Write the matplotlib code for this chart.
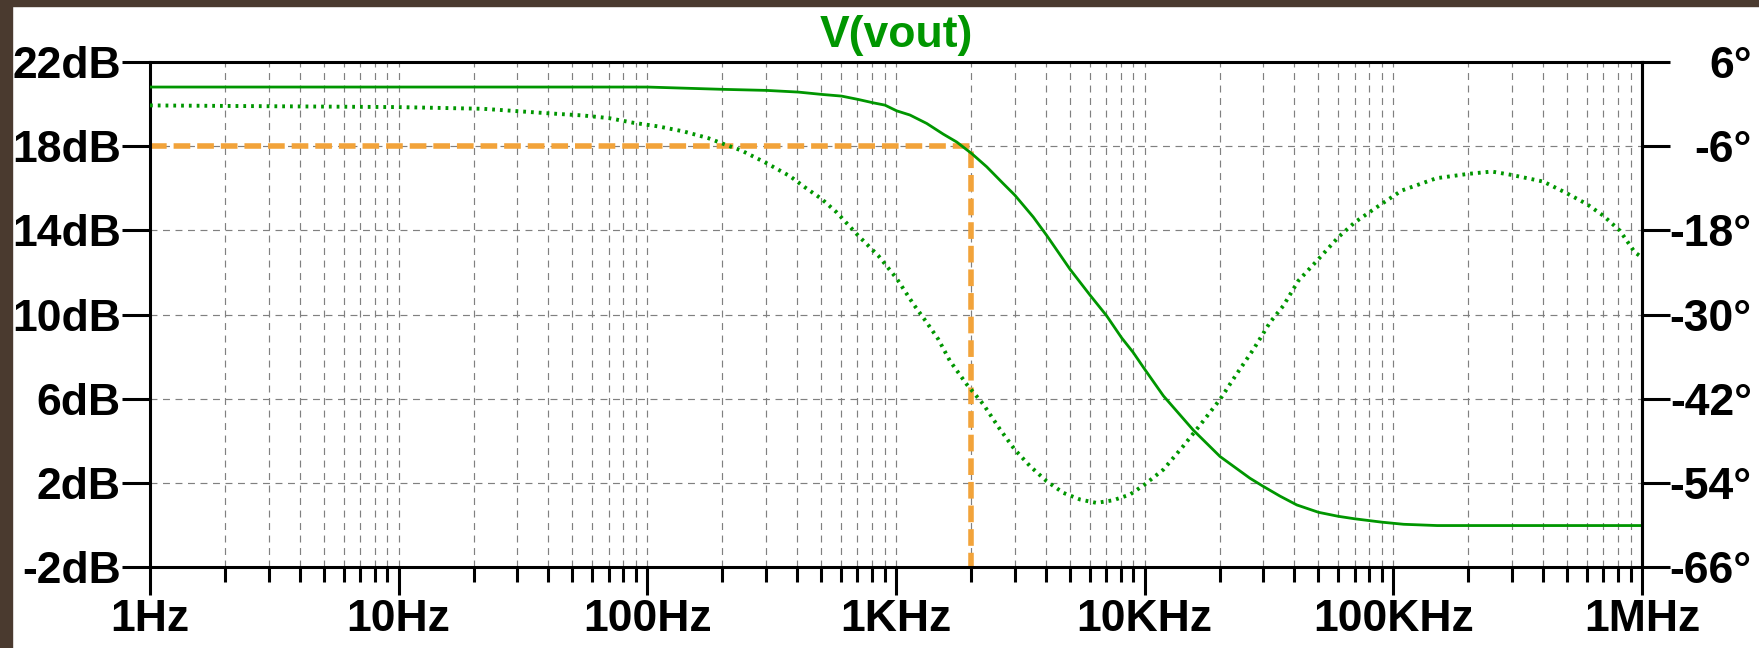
import matplotlib
matplotlib.use('Agg')
import matplotlib.pyplot as plt
from matplotlib.ticker import LogLocator, NullLocator, NullFormatter
from matplotlib.patches import Rectangle

# ---------------- data ----------------
freq_mag = [1, 10, 100, 202, 302, 405, 502, 604, 705, 810, 903, 1006, 1138, 1329,
            1550, 1753, 2015, 2316, 2700, 3006, 3566, 4036, 5010, 6030, 7030,
            8070, 9000, 10000, 11900, 15700, 20100, 26500, 30000, 35000, 40900,
            50000, 60000, 70000, 90000, 110000, 150000, 300000, 1000000]
mag_db = [20.81, 20.81, 20.81, 20.70, 20.65, 20.57, 20.46, 20.38, 20.22, 20.06,
          19.95, 19.68, 19.48, 19.08, 18.57, 18.20, 17.65, 17.02, 16.22, 15.67,
          14.63, 13.76, 12.15, 10.92, 9.94, 8.90, 8.19, 7.40, 6.13, 4.50, 3.25,
          2.22, 1.83, 1.37, 0.95, 0.60, 0.41, 0.29, 0.13, 0.03, -0.03, -0.03,
          -0.03]

freq_phase = [1, 10, 21.8, 40.6, 55, 70, 88, 111, 140, 176, 202, 239, 302, 375,
              430, 502, 577, 705, 849, 1006, 1175, 1329, 1479, 1648, 1924, 2245,
              2620, 3000, 3460, 4030, 4710, 5500, 6400, 7480, 8730, 10000, 11900,
              14300, 17200, 20100, 23400, 27400, 31900, 36100, 41500, 50000,
              60000, 70000, 85700, 108000, 149000, 200000, 249000, 299000,
              401000, 498000, 599000, 698000, 815000, 936000, 1000000]
phase_deg = [-0.19, -0.43, -0.67, -1.33, -1.62, -2.00, -2.67, -3.19, -3.90, -4.86,
             -5.67, -6.62, -8.43, -10.29, -11.86, -13.52, -15.43, -18.76, -21.62,
             -24.86, -28.52, -31.14, -33.52, -36.62, -39.95, -42.81, -46.38,
             -49.24, -51.62, -53.76, -55.43, -56.38, -56.86, -56.48, -55.67,
             -54.24, -52.10, -48.76, -45.19, -42.10, -38.52, -34.95, -31.14,
             -28.76, -25.19, -22.10, -19.00, -16.86, -14.71, -12.33, -10.57,
             -9.95, -9.62, -10.10, -11.05, -12.71, -14.24, -15.90, -18.05,
             -21.14, -21.86]

cursor_freq = 2000
cursor_db = 18.0

x_ticks = [1, 10, 100, 1e3, 1e4, 1e5, 1e6]
x_labels = ['1Hz', '10Hz', '100Hz', '1KHz', '10KHz', '100KHz', '1MHz']
db_ticks = [22, 18, 14, 10, 6, 2, -2]
db_labels = ['22dB', '18dB', '14dB', '10dB', '6dB', '2dB', '-2dB']
deg_ticks = [6, -6, -18, -30, -42, -54, -66]
deg_labels = ['6°', '-6°', '-18°', '-30°', '-42°', '-54°', '-66°']
title = 'V(vout)'

# ---------------- style ----------------
GREEN = '#009600'
ORANGE = '#f2a33a'
GRID = '#808080'
BROWN = '#4a3a2f'
FS = 32

plt.rcParams['font.family'] = ['Liberation Sans', 'DejaVu Sans']
plt.rcParams['font.weight'] = 'bold'
plt.rcParams['lines.scale_dashes'] = False

W, H = 1759, 648
fig = plt.figure(figsize=(W / 100, H / 100), dpi=100)
fig.patch.set_facecolor('white')

ax = fig.add_axes([150 / W, 1 - 567 / H, (1642 - 150) / W, (567 - 62) / H])
ax.set_xscale('log')
ax.set_xlim(1, 1e6)
ax.set_ylim(-2, 22)

ax.xaxis.set_major_locator(LogLocator(base=10, numticks=20))
ax.xaxis.set_minor_locator(LogLocator(base=10, subs=range(2, 10), numticks=20))
ax.xaxis.set_minor_formatter(NullFormatter())
ax.set_xticks(x_ticks, x_labels)
ax.set_yticks(db_ticks, db_labels)
ax.yaxis.set_minor_locator(NullLocator())

grid_kw = dict(color=GRID, linewidth=0.85, linestyle=(0, (5, 4)))
ax.grid(which='both', axis='x', **grid_kw)
ax.grid(which='major', axis='y', **grid_kw)
ax.set_axisbelow(True)

ax.tick_params(axis='x', which='major', direction='out', length=20, width=2.2,
               pad=3, labelsize=FS, colors='black')
ax.tick_params(axis='x', which='minor', direction='out', length=11, width=2.2)
ax.tick_params(axis='y', which='major', direction='out', length=20, width=2.2,
               pad=1, labelsize=FS)
for s in ax.spines.values():
    s.set_linewidth(2.2)

# magnitude
ax.plot(freq_mag, mag_db, color=GREEN, linewidth=2.0, zorder=3)
# cursor
ax.plot([1, cursor_freq, cursor_freq], [cursor_db, cursor_db, -2], color=ORANGE,
        linewidth=4.0, linestyle=(0, (12, 5)), zorder=2.5)

# phase axis
ax2 = ax.twinx()
ax2.set_ylim(-66, 6)
ax2.set_yticks(deg_ticks, deg_labels)
ax2.yaxis.set_minor_locator(NullLocator())
ax2.tick_params(axis='y', which='major', direction='out', length=20, width=2.2,
                pad=59, labelsize=FS)
for t in ax2.yaxis.get_major_ticks():
    t.label2.set_horizontalalignment('right')
for k in ('left', 'top', 'bottom'):
    ax2.spines[k].set_visible(False)
ax2.spines['right'].set_linewidth(2.2)
ax2.plot(freq_phase, phase_deg, color=GREEN, linewidth=2.8,
         linestyle=(0, (2.0, 3.6)), zorder=3)

# title
fig.text(896 / W, 1 - 47 / H, title, ha='center', va='baseline', color=GREEN,
         fontsize=FS, fontweight='bold')

# brown frame (top and left edges)
fig.patches.append(Rectangle((0, 1 - 6 / H), 1, 6 / H, transform=fig.transFigure,
                             color=BROWN, zorder=10))
fig.patches.append(Rectangle((0, 0), 12 / W, 1, transform=fig.transFigure,
                             color=BROWN, zorder=10))

fig.savefig('out.png', dpi=100)
